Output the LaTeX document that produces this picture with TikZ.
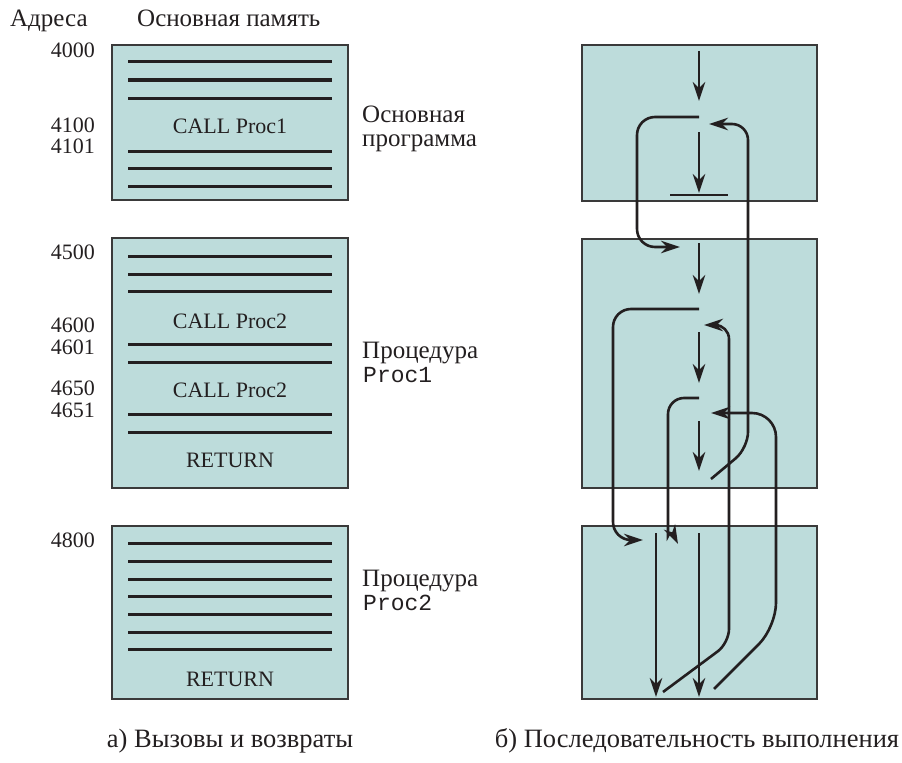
\documentclass[tikz,border=0pt]{standalone}
\usepackage{fontspec}
\setmainfont{Liberation Serif}
\setmonofont{Liberation Mono}
\usetikzlibrary{arrows.meta}
\definecolor{boxfill}{HTML}{BDDCDB}
\definecolor{boxedge}{HTML}{3A3A3A}
\definecolor{ink}{HTML}{231F20}
\tikzset{
 membox/.style={draw=boxedge, line width=1.2bp, fill=boxfill, inner sep=0pt, outer sep=0pt},
 instr/.style={ink, line width=3bp},
 flow/.style={ink, line width=2.6bp},
 tip/.style={-{Stealth[length=19bp,width=12.5bp,inset=6bp]}},
 addr/.style={anchor=base east, inner sep=0pt, font=\fontsize{22bp}{24bp}\selectfont, text=ink},
 code/.style={anchor=base, inner sep=0pt, font=\fontsize{22bp}{24bp}\selectfont, text=ink},
 lbl/.style={anchor=base west, inner sep=0pt, font=\fontsize{25bp}{28bp}\selectfont, text=ink},
 caption/.style={anchor=base, inner sep=0pt, font=\fontsize{26.5bp}{29bp}\selectfont, text=ink},
 mono/.style={anchor=base west, inner sep=0pt, font=\fontsize{23bp}{26bp}\ttfamily, text=ink},
}
\begin{document}
\begin{tikzpicture}[x=1bp,y=-1bp]
\useasboundingbox (0,0) rectangle (902,763);
% left boxes
\node[membox, minimum width=236bp, minimum height=155bp] (m1) at (230,122.5) {};
\node[membox, minimum width=236bp, minimum height=250bp] (m2) at (230,363) {};
\node[membox, minimum width=236bp, minimum height=173bp] (m3) at (230,612.5) {};
% right boxes
\node[membox, minimum width=235bp, minimum height=156bp] (r1) at (699.5,123) {};
\node[membox, minimum width=235bp, minimum height=249bp] (r2) at (699.5,363.5) {};
\node[membox, minimum width=235bp, minimum height=173bp] (r3) at (699.5,612.5) {};
% instruction lines
\foreach \yy in {62,80,98,151,168,186,256,274,291,344,362,414,432,543,561,579,596,614,632,649}
  \draw[instr] (128,\yy) -- (332,\yy);
% headings
\node[lbl] (hA) at (10,27) {Адреса};
\node[lbl] (hM) at (137,27) {Основная память};
% addresses
\node[addr] (a4000) at (95,58) {4000};
\node[addr] (a4100) at (95,132) {4100};
\node[addr] (a4101) at (95,153) {4101};
\node[addr] (a4500) at (95,259) {4500};
\node[addr] (a4600) at (95,332) {4600};
\node[addr] (a4601) at (95,354) {4601};
\node[addr] (a4650) at (95,395) {4650};
\node[addr] (a4651) at (95,417) {4651};
\node[addr] (a4800) at (95,547) {4800};
% code
\node[code] (c1) at (230,133) {CALL Proc1};
\node[code] (c2) at (230,328) {CALL Proc2};
\node[code] (c3) at (230,397) {CALL Proc2};
\node[code] (c4) at (230,467) {RETURN};
\node[code] (c5) at (230,686) {RETURN};
% side labels
\node[lbl] (s1) at (362,122) {Основная};
\node[lbl] (s2) at (362,146) {программа};
\node[lbl] (s3) at (362,358) {Процедура};
\node[mono] (s4) at (363,382) {Proc1};
\node[lbl] (s5) at (362,586) {Процедура};
\node[mono] (s6) at (363,610) {Proc2};
% captions
\node[caption] (capA) at (230,747) {а) Вызовы и возвраты};
\node[caption] (capB) at (697,747) {б) Последовательность выполнения};
% flow in main program
\draw[flow,tip] (699,51) -- (699,101);
\draw[flow,tip,rounded corners=18bp] (699,117) -- (637,117) -- (637,247) -- (680,247);
\draw[flow,tip] (699,132) -- (699,193);
\draw[flow] (670,195) -- (728,195);
\draw[flow,tip,rounded corners=16bp] (711,479) -- (748,448) -- (748,124) -- (709,124);
% flow in Proc1
\draw[flow,tip] (699,243) -- (699,294);
\draw[flow,tip,rounded corners=18bp] (699,309) -- (613,309) -- (613,540) -- (643,540);
\draw[flow,tip] (699,332) -- (699,383);
\draw[flow,tip,rounded corners=14bp] (663,692) -- (729,643) -- (729,325) -- (704,325);
\draw[flow,tip,rounded corners=16bp] (699,398) -- (668,398) -- (668,520) .. controls (668,532) and (674,536) .. (678,544);
\draw[flow,tip] (699,421) -- (699,471);
\draw[flow,tip,rounded corners=24bp] (714,689) -- (776,627) -- (776,413) -- (711,413);
% flow in Proc2
\draw[flow,tip] (656,533) -- (656,697);
\draw[flow,tip] (699,533) -- (699,697);
\end{tikzpicture}
\end{document}
